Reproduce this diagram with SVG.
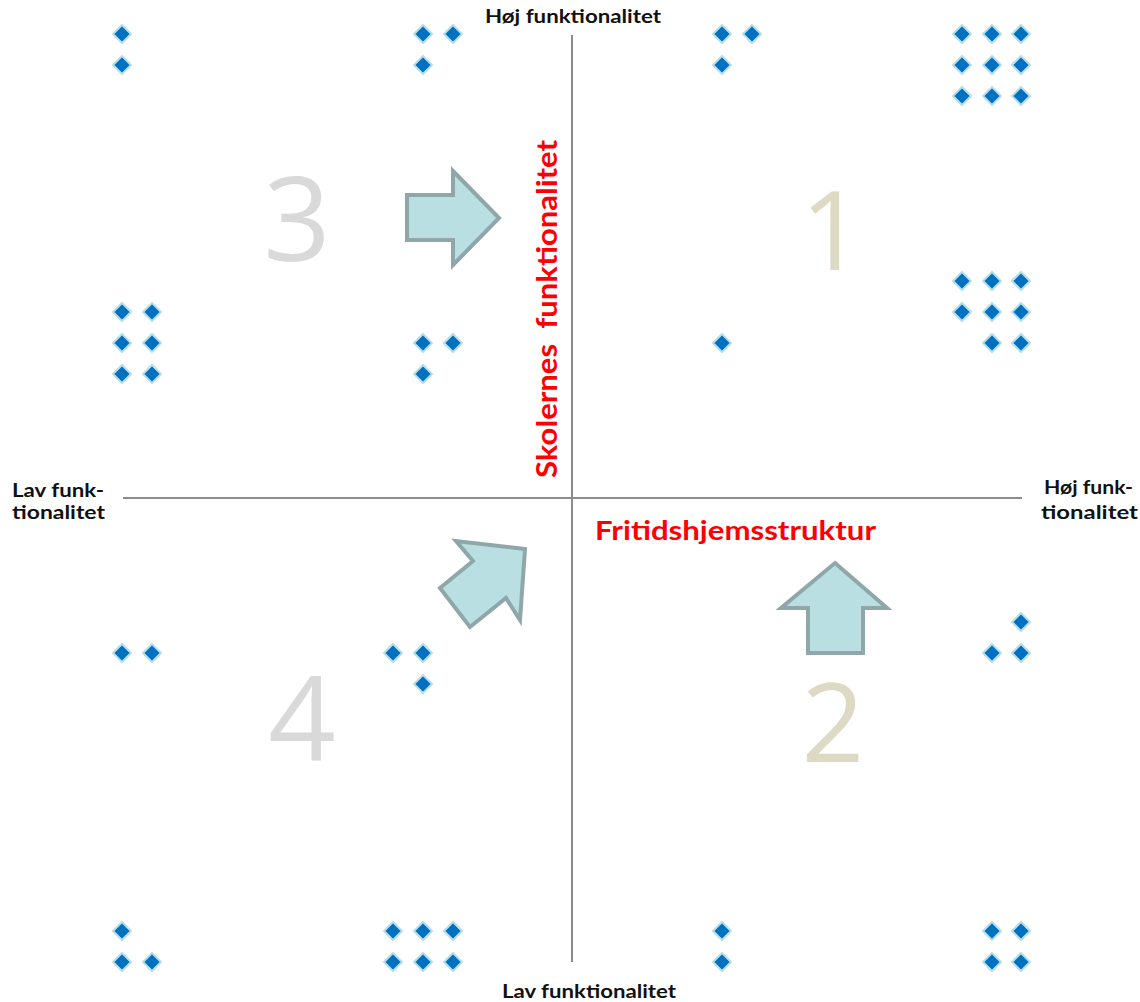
<svg xmlns="http://www.w3.org/2000/svg" xmlns:xlink="http://www.w3.org/1999/xlink" width="1140" height="1002" viewBox="0 0 1140 1002">
<style>
.ax{stroke:#8c8c8c;stroke-width:2;fill:none}
.lbl{font-family:Lato,"Open Sans","Liberation Sans",sans-serif;font-weight:bold;fill:#111;font-size:18px}
.red{font-family:Lato,"Open Sans","Liberation Sans",sans-serif;font-weight:bold;fill:#ff0000}
.num{font-family:"Open Sans","Liberation Sans",sans-serif;text-anchor:middle}
.g{fill:#d9d9d9}
.b{fill:#ddd9c3}
.arr{fill:#b9dfe3;stroke:#8fa7a9;stroke-width:4;stroke-linejoin:miter}
.dm{fill:#0070c0;stroke:#b7dee8;stroke-width:2}
</style>
<defs>
<path id="d" class="dm" d="M0,-9 L9,0 L0,9 L-9,0Z"/>
</defs>
<rect width="1140" height="1002" fill="#fff"/>
<g id="connectors">
<line class="ax" x1="572" y1="35" x2="572" y2="962"/>
<line class="ax" x1="123" y1="498" x2="1022" y2="498"/>
</g>
<g id="axis-labels">
<text class="lbl" x="573" y="23" text-anchor="middle" textLength="176" lengthAdjust="spacingAndGlyphs">Høj funktionalitet</text>
<text class="lbl" x="589" y="998" text-anchor="middle" textLength="174" lengthAdjust="spacingAndGlyphs">Lav funktionalitet</text>
<text class="lbl" x="12" y="497" textLength="92" lengthAdjust="spacingAndGlyphs">Lav funk-</text>
<text class="lbl" x="12" y="519" textLength="93" lengthAdjust="spacingAndGlyphs">tionalitet</text>
<text class="lbl" x="1044" y="494" textLength="89" lengthAdjust="spacingAndGlyphs">Høj funk-</text>
<text class="lbl" x="1041" y="519" textLength="97" lengthAdjust="spacingAndGlyphs">tionalitet</text>
</g>
<g id="axis-titles">
<text class="red" font-size="28" text-anchor="middle" transform="translate(557,309) rotate(-90)" textLength="338" lengthAdjust="spacingAndGlyphs" xml:space="preserve">Skolernes  funktionalitet</text>
<text class="red" font-size="26" x="595" y="540" textLength="281" lengthAdjust="spacingAndGlyphs">Fritidshjemsstruktur</text>
</g>
<g id="quadrant-numbers">
<text class="num g" font-size="118" x="297" y="261">3</text>
<text class="num b" font-size="110" x="832" y="270">1</text>
<text class="num b" font-size="110" x="833" y="762">2</text>
<text class="num g" font-size="118" x="302" y="760">4</text>
</g>
<g id="arrows">
<polygon id="arrow-right" class="arr" points="407,195 453,195 453,171 499,218 453,265 453,240 407,240"/>
<polygon id="arrow-diag" class="arr" points="525,549 520,620 506,598 470,627 440,588 473,561 456,541"/>
<polygon id="arrow-up" class="arr" points="835,563 887,608 863,608 863,653 808,653 808,608 781,608"/>
</g>
<g id="q3-points">
<use xlink:href="#d" x="122" y="34"/><use xlink:href="#d" x="122" y="65"/>
<use xlink:href="#d" x="423" y="34"/><use xlink:href="#d" x="453" y="34"/><use xlink:href="#d" x="423" y="65"/>
<use xlink:href="#d" x="122" y="312"/><use xlink:href="#d" x="152" y="312"/>
<use xlink:href="#d" x="122" y="343"/><use xlink:href="#d" x="152" y="343"/>
<use xlink:href="#d" x="122" y="374"/><use xlink:href="#d" x="152" y="374"/>
<use xlink:href="#d" x="423" y="343"/><use xlink:href="#d" x="453" y="343"/><use xlink:href="#d" x="423" y="374"/>
</g>
<g id="q1-points">
<use xlink:href="#d" x="722" y="34"/><use xlink:href="#d" x="752" y="34"/><use xlink:href="#d" x="722" y="65"/>
<use xlink:href="#d" x="962" y="34"/><use xlink:href="#d" x="992" y="34"/><use xlink:href="#d" x="1021" y="34"/>
<use xlink:href="#d" x="962" y="65"/><use xlink:href="#d" x="992" y="65"/><use xlink:href="#d" x="1021" y="65"/>
<use xlink:href="#d" x="962" y="96"/><use xlink:href="#d" x="992" y="96"/><use xlink:href="#d" x="1021" y="96"/>
<use xlink:href="#d" x="722" y="343"/>
<use xlink:href="#d" x="962" y="281"/><use xlink:href="#d" x="992" y="281"/><use xlink:href="#d" x="1021" y="281"/>
<use xlink:href="#d" x="962" y="312"/><use xlink:href="#d" x="992" y="312"/><use xlink:href="#d" x="1021" y="312"/>
<use xlink:href="#d" x="992" y="343"/><use xlink:href="#d" x="1021" y="343"/>
</g>
<g id="q4-points">
<use xlink:href="#d" x="122" y="653"/><use xlink:href="#d" x="152" y="653"/>
<use xlink:href="#d" x="393" y="653"/><use xlink:href="#d" x="423" y="653"/><use xlink:href="#d" x="423" y="684"/>
<use xlink:href="#d" x="122" y="931"/><use xlink:href="#d" x="122" y="962"/><use xlink:href="#d" x="152" y="962"/>
<use xlink:href="#d" x="393" y="931"/><use xlink:href="#d" x="423" y="931"/><use xlink:href="#d" x="453" y="931"/>
<use xlink:href="#d" x="393" y="962"/><use xlink:href="#d" x="423" y="962"/><use xlink:href="#d" x="453" y="962"/>
</g>
<g id="q2-points">
<use xlink:href="#d" x="1021" y="622"/><use xlink:href="#d" x="992" y="653"/><use xlink:href="#d" x="1021" y="653"/>
<use xlink:href="#d" x="722" y="931"/><use xlink:href="#d" x="722" y="962"/>
<use xlink:href="#d" x="992" y="931"/><use xlink:href="#d" x="1021" y="931"/>
<use xlink:href="#d" x="992" y="962"/><use xlink:href="#d" x="1021" y="962"/>
</g>
</svg>
